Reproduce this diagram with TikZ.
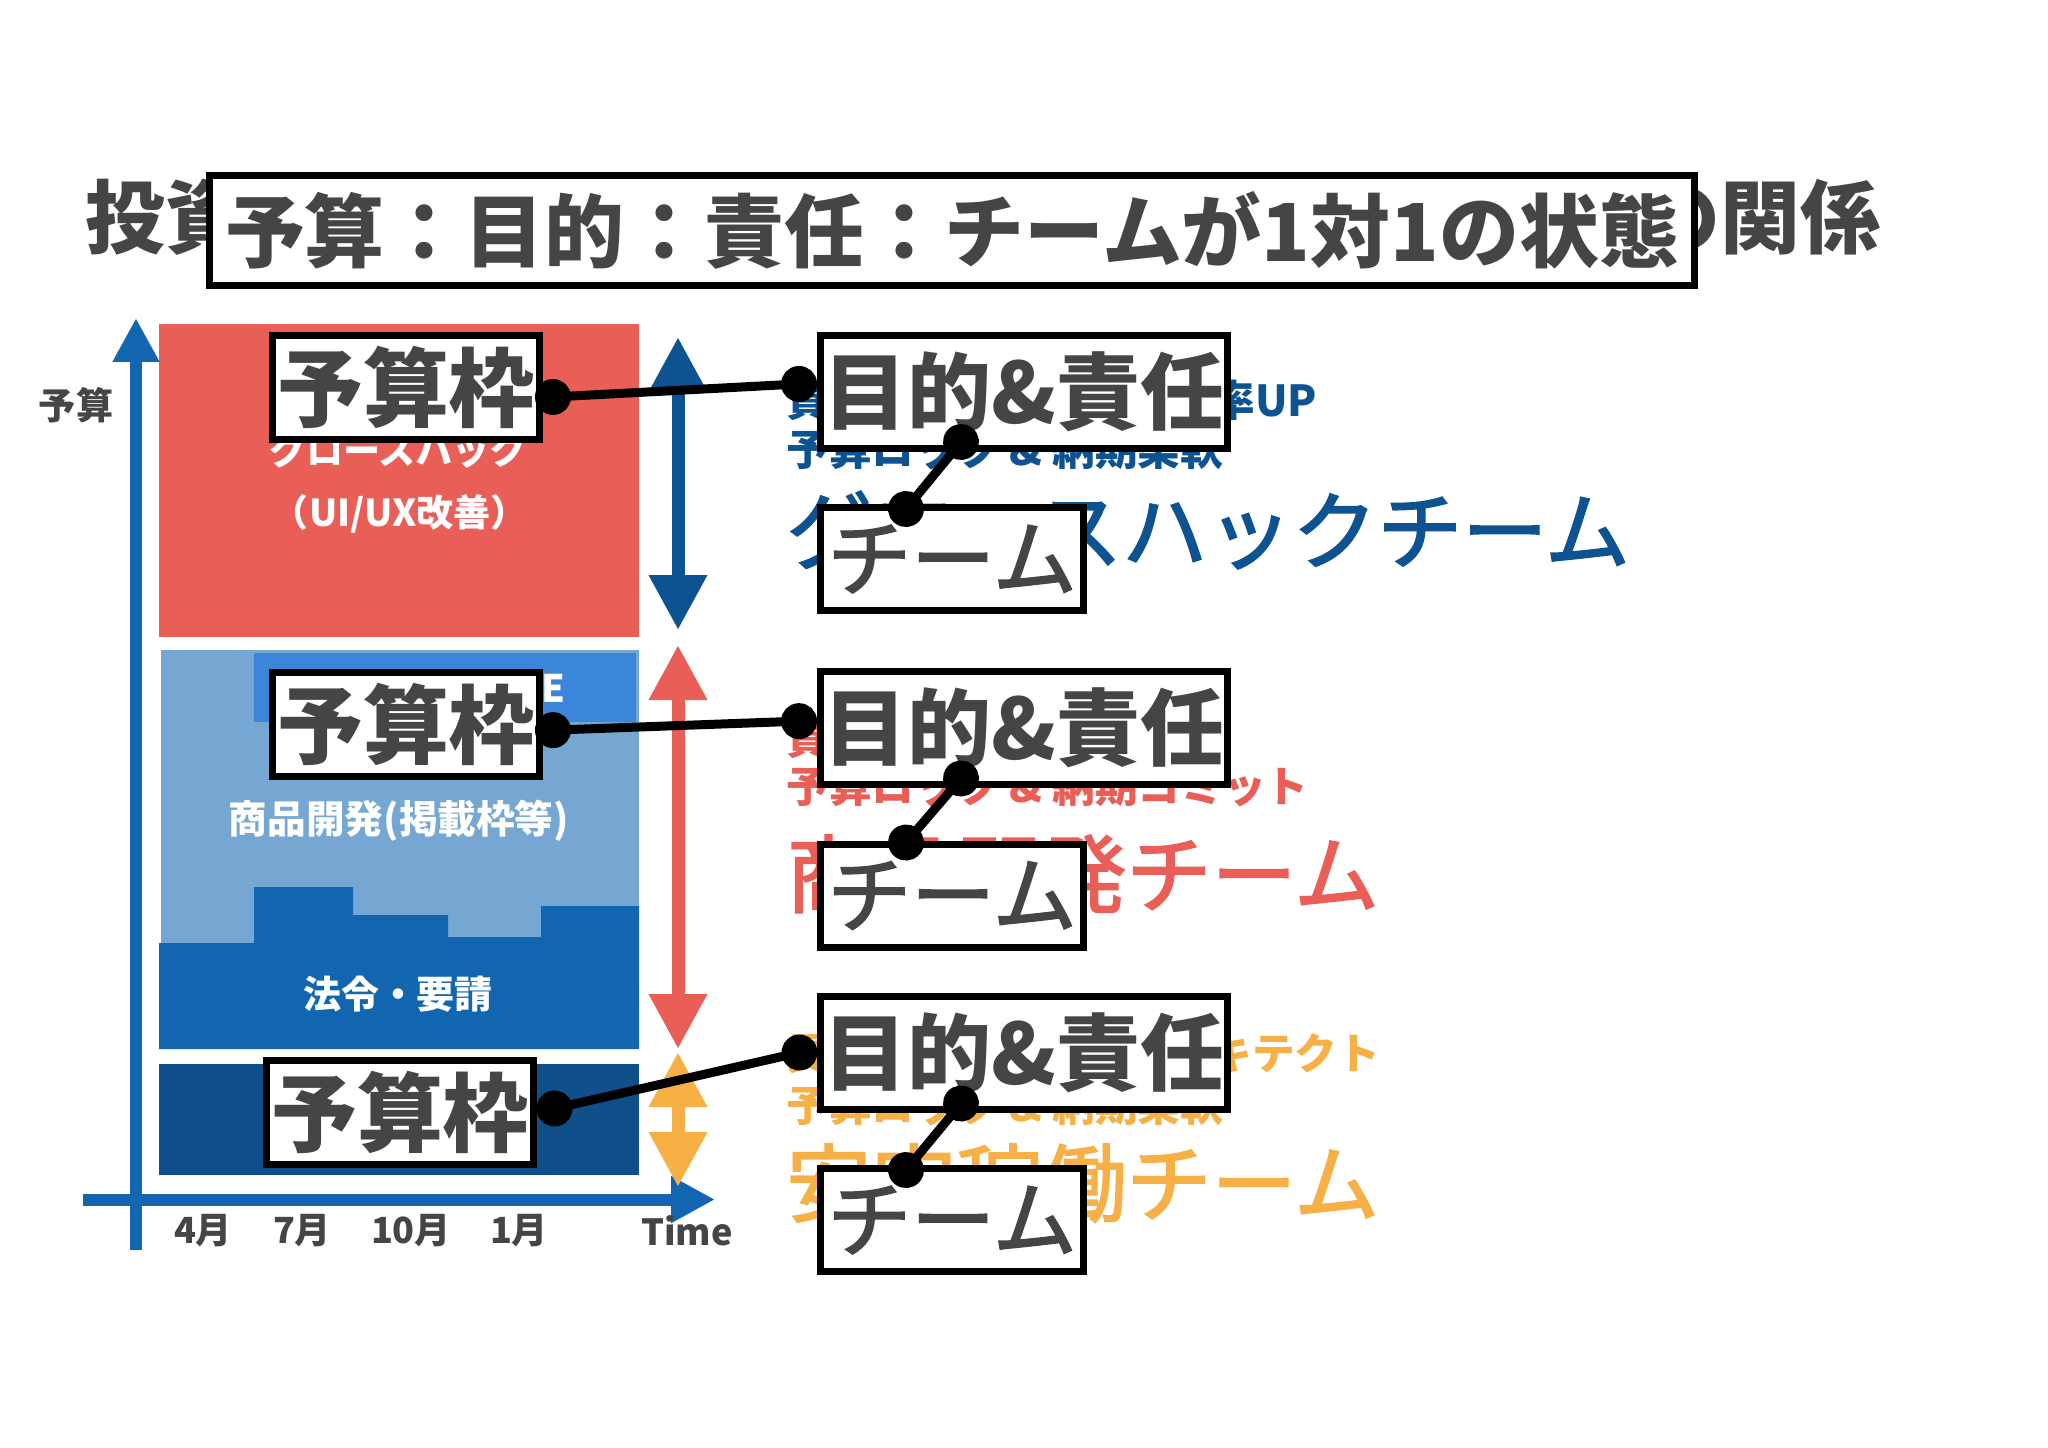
\documentclass[tikz,border=0pt]{standalone}
\usepackage{fontspec}
\setmainfont{Noto Sans CJK JP}
\newfontfamily\teamfont[FakeBold=2]{Noto Sans CJK JP}
\usepackage{tikz}
\usetikzlibrary{arrows.meta,calc}

\definecolor{ink}{HTML}{454545}
\definecolor{growred}{HTML}{E95F58}
\definecolor{lightblue}{HTML}{76A7D2}
\definecolor{barblue}{HTML}{3B86DA}
\definecolor{lawblue}{HTML}{1166AF}
\definecolor{deepblue}{HTML}{0F4F8A}
\definecolor{teamblue}{HTML}{0E5391}
\definecolor{teamorange}{HTML}{F7B046}

\begin{document}
\begin{tikzpicture}[x=0.02cm,y=-0.02cm,
    every node/.style={inner sep=0pt},
    frame/.style={draw=black,line width=0.14cm,fill=white,text=ink},
    title/.style={text=ink,font=\bfseries\fontsize{45.5pt}{46pt}\selectfont},
    budgetbox/.style={frame,minimum width=5.34cm,minimum height=2.08cm,font=\bfseries\fontsize{48.9pt}{49pt}\selectfont},
    goalbox/.style={frame,minimum width=8.14cm,minimum height=2.26cm,font=\bfseries\fontsize{47.8pt}{48pt}\selectfont},
    teambox/.style={frame,minimum width=5.26cm,minimum height=2.06cm,font=\teamfont\fontsize{47.8pt}{48pt}\selectfont},
    chartlabel/.style={text=white,font=\bfseries\fontsize{21.1pt}{22pt}\selectfont},
    axislabel/.style={text=ink,font=\bfseries\fontsize{20.5pt}{21pt}\selectfont},
    note/.style={anchor=west,font=\bfseries\fontsize{24.3pt}{25pt}\selectfont},
    teamname/.style={anchor=west,font=\teamfont\fontsize{48.4pt}{49pt}\selectfont},
    axis/.style={lawblue,line width=0.24cm,-{Triangle[length=0.88cm,width=0.88cm]}},
    span/.style={line width=0.26cm,{Triangle[length=1.1cm,width=1.1cm]}-{Triangle[length=1.1cm,width=1.1cm]}},
    link/.style={black,line width=0.18cm,{Circle[length=0.72cm]}-{Circle[length=0.72cm]}}]
    \useasboundingbox (0,0) rectangle (2048,1447);

    % title
    \node[title,anchor=west] (tl) at (85,217) {投資};
    \node[title,anchor=east] (tr) at (1881,217) {の関係};

    % budget blocks
    \fill[growred] (159,324) rectangle (639,637);
    \fill[lightblue] (161,650) rectangle (639,1049);
    \fill[barblue] (254,653) rectangle (636,722);
    \fill[lawblue] (159,943) -- (254,943) -- (254,887) -- (353,887) -- (353,915)
        -- (448,915) -- (448,937) -- (541,937) -- (541,906) -- (639,906)
        -- (639,1049) -- (159,1049) -- cycle;
    \fill[deepblue] (159,1064) rectangle (639,1175);

    \node[chartlabel] (grow) at (398,450) {グロースハック};
    \node[chartlabel] (uiux) at (400,514) {（UI/UX改善）};
    \node[chartlabel,anchor=east,font=\bfseries\fontsize{21.6pt}{22pt}\selectfont] (sre) at (566,688) {新規・SRE};
    \node[chartlabel,font=\bfseries\fontsize{22pt}{23pt}\selectfont] (dev) at (399,821) {商品開発(掲載枠等)};
    \node[chartlabel,font=\bfseries\fontsize{21.6pt}{22pt}\selectfont] (law) at (398,994) {法令・要請};

    % axes
    \draw[axis] (136,1250) -- (136,318);
    \draw[axis] (83,1199.5) -- (715,1199.5);
    \node[axislabel,font=\bfseries\fontsize{21.1pt}{22pt}\selectfont] (ylab) at (76,405) {予算};
    \node[axislabel] (m4) at (203,1231) {4月};
    \node[axislabel] (m7) at (302,1231) {7月};
    \node[axislabel] (m10) at (411,1231) {10月};
    \node[axislabel] (m1) at (519,1231) {1月};
    \node[axislabel] (time) at (687,1231) {Time};

    \draw[span,teamblue] (678,337) -- (678,630);
    \draw[span,growred] (678,645) -- (678,1049);
    \draw[span,teamorange] (678,1052) -- (678,1187);

    % teams
    \node[note,text=teamblue] (p1) at (786,400) {貢献：コンバージョン率UP};
    \node[note,text=teamblue] (r1) at (786,449) {予算ロック \& 納期柔軟};
    \node[teamname,text=teamblue] (n1) at (786,530) {グロースハックチーム};
    \node[note,text=growred] (p2) at (786,738) {貢献：売上UP};
    \node[note,text=growred] (r2) at (786,786) {予算ロック \& 納期コミット};
    \node[teamname,text=growred] (n2) at (786,874) {商品開発チーム};
    \node[note,text=teamorange] (p3) at (786,1053) {貢献：インフラ・アーキテクト};
    \node[note,text=teamorange] (r3) at (786,1105) {予算ロック \& 納期柔軟};
    \node[teamname,text=teamorange] (n3) at (786,1183) {安定稼働チーム};

    % one to one boxes
    \node[frame,title,minimum width=29.7cm,minimum height=2.2cm] (head) at (952,230.5) {予算：目的：責任：チームが1対1の状態};

    \node[budgetbox] (b1) at (406,387.5) {予算枠};
    \node[budgetbox] (b2) at (406,724.5) {予算枠};
    \node[budgetbox] (b3) at (400,1112.5) {予算枠};
    \node[goalbox] (g1) at (1024,392) {目的\&責任};
    \node[goalbox] (g2) at (1024,727.5) {目的\&責任};
    \node[goalbox] (g3) at (1024,1052.5) {目的\&責任};
    \node[teambox] (t1) at (952,559) {チーム};
    \node[teambox] (t2) at (952,895.5) {チーム};
    \node[teambox] (t3) at (952,1220) {チーム};

    \draw[link,shorten <=-0.16cm] ($(b1.east)+(0,10)$) -- ($(g1.west)+(0,-9)$);
    \draw[link,shorten <=-0.16cm] ($(b2.east)+(0,6)$) -- ($(g2.west)+(0,-7)$);
    \draw[link] (b3.east) -- ($(g3.west)+(0,-4)$);
    \draw[link,shorten <=-0.36cm,shorten >=-0.36cm] ($(g1.south)+(-63,-10)$) -- ($(t1.north)+(-46,5)$);
    \draw[link,shorten <=-0.36cm,shorten >=-0.36cm] ($(g2.south)+(-63,-9)$) -- ($(t2.north)+(-46,2)$);
    \draw[link,shorten <=-0.36cm,shorten >=-0.36cm] ($(g3.south)+(-63,-9)$) -- ($(t3.north)+(-46,5)$);
\end{tikzpicture}
\end{document}
